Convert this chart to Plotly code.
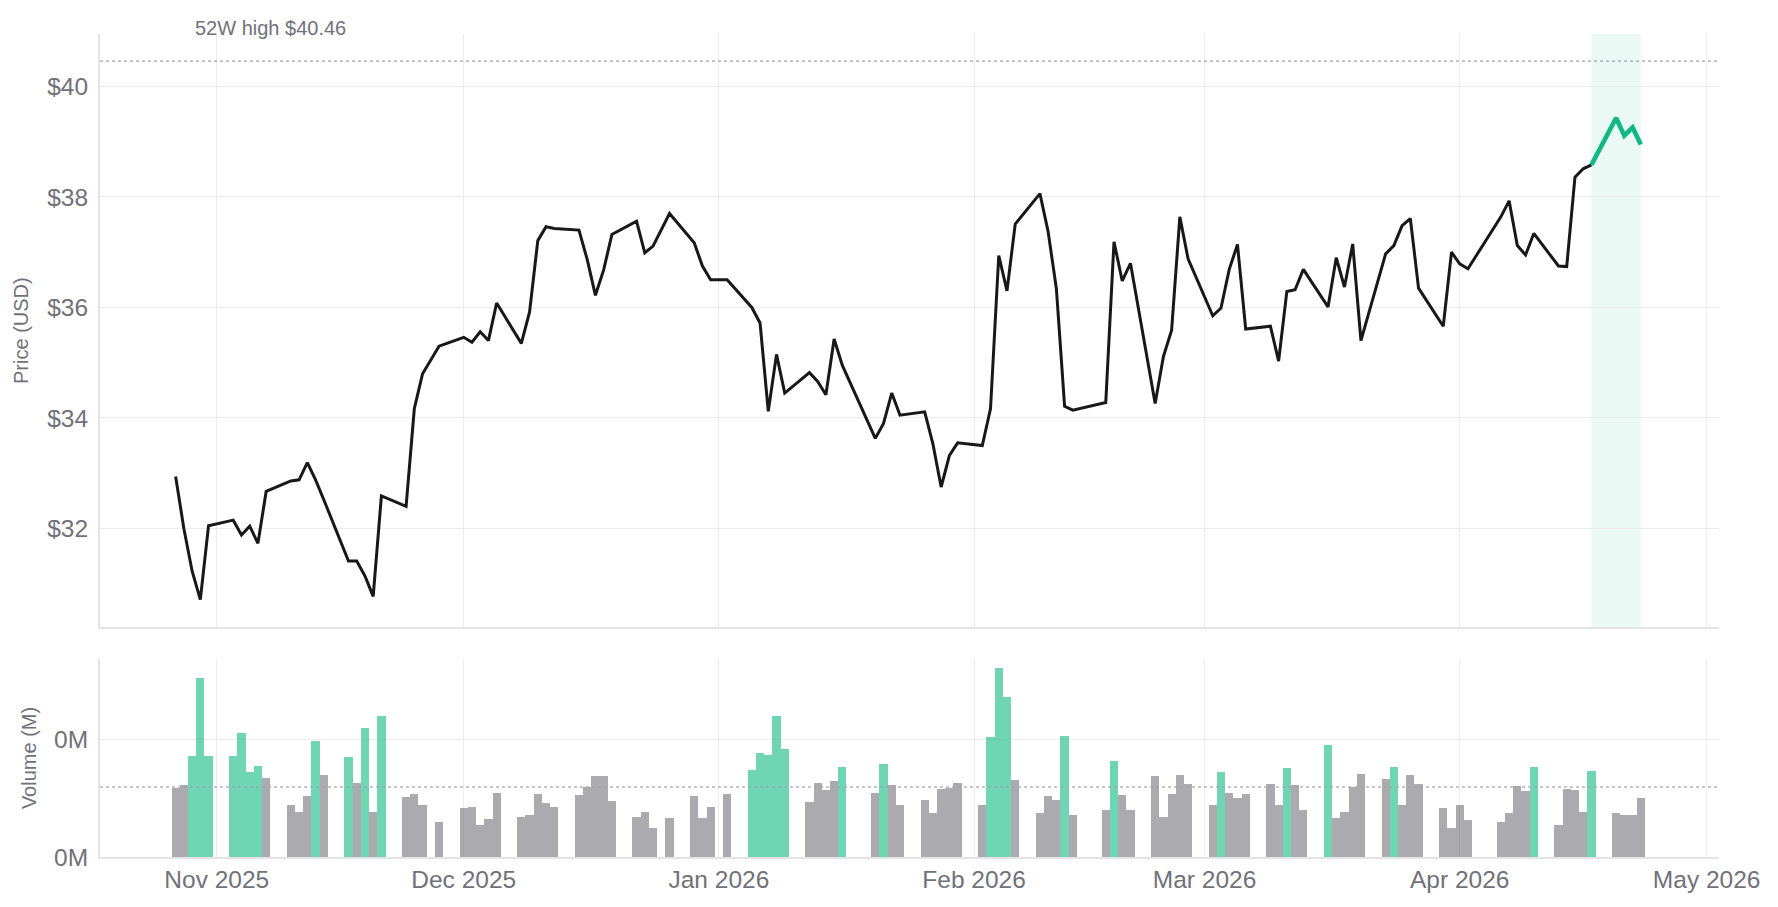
import plotly.graph_objects as go
from plotly.subplots import make_subplots

dates = [
    "2025-10-27", "2025-10-28", "2025-10-29", "2025-10-30", "2025-10-31",
    "2025-11-03", "2025-11-04", "2025-11-05", "2025-11-06", "2025-11-07",
    "2025-11-10", "2025-11-11", "2025-11-12", "2025-11-13", "2025-11-14",
    "2025-11-17", "2025-11-18", "2025-11-19", "2025-11-20", "2025-11-21",
    "2025-11-24", "2025-11-25", "2025-11-26", "2025-11-28",
    "2025-12-01", "2025-12-02", "2025-12-03", "2025-12-04", "2025-12-05",
    "2025-12-08", "2025-12-09", "2025-12-10", "2025-12-11", "2025-12-12",
    "2025-12-15", "2025-12-16", "2025-12-17", "2025-12-18", "2025-12-19",
    "2025-12-22", "2025-12-23", "2025-12-24", "2025-12-26",
    "2025-12-29", "2025-12-30", "2025-12-31", "2026-01-02",
    "2026-01-05", "2026-01-06", "2026-01-07", "2026-01-08", "2026-01-09",
    "2026-01-12", "2026-01-13", "2026-01-14", "2026-01-15", "2026-01-16",
    "2026-01-20", "2026-01-21", "2026-01-22", "2026-01-23",
    "2026-01-26", "2026-01-27", "2026-01-28", "2026-01-29", "2026-01-30",
    "2026-02-02", "2026-02-03", "2026-02-04", "2026-02-05", "2026-02-06",
    "2026-02-09", "2026-02-10", "2026-02-11", "2026-02-12", "2026-02-13",
    "2026-02-17", "2026-02-18", "2026-02-19", "2026-02-20",
    "2026-02-23", "2026-02-24", "2026-02-25", "2026-02-26", "2026-02-27",
    "2026-03-02", "2026-03-03", "2026-03-04", "2026-03-05", "2026-03-06",
    "2026-03-09", "2026-03-10", "2026-03-11", "2026-03-12", "2026-03-13",
    "2026-03-16", "2026-03-17", "2026-03-18", "2026-03-19", "2026-03-20",
    "2026-03-23", "2026-03-24", "2026-03-25", "2026-03-26", "2026-03-27",
    "2026-03-30", "2026-03-31", "2026-04-01", "2026-04-02",
    "2026-04-06", "2026-04-07", "2026-04-08", "2026-04-09", "2026-04-10",
    "2026-04-13", "2026-04-14", "2026-04-15", "2026-04-16", "2026-04-17",
    "2026-04-20", "2026-04-21", "2026-04-22", "2026-04-23",
]

close_prices = [
    32.94, 32.00, 31.23, 30.71, 32.05,
    32.15, 31.88, 32.04, 31.73, 32.67,
    32.86, 32.88, 33.19, 32.88, 32.52,
    31.41, 31.41, 31.14, 30.77, 32.59,
    32.40, 34.17, 34.80, 35.30,
    35.46, 35.37, 35.56, 35.40, 36.08,
    35.35, 35.92, 37.21, 37.46, 37.43,
    37.40, 36.87, 36.22, 36.68, 37.32,
    37.56, 36.99, 37.11, 37.70,
    37.17, 36.75, 36.50, 36.50,
    36.00, 35.72, 34.12, 35.15, 34.45,
    34.82, 34.66, 34.42, 35.43, 34.95,
    33.63, 33.90, 34.45, 34.05,
    34.11, 33.53, 32.75, 33.32, 33.55,
    33.50, 34.17, 36.94, 36.30, 37.51,
    38.06, 37.37, 36.34, 34.21, 34.14,
    34.28, 37.19, 36.48, 36.80,
    34.26, 35.11, 35.59, 37.64, 36.88,
    35.85, 35.99, 36.69, 37.14, 35.61,
    35.66, 35.03, 36.29, 36.32, 36.69,
    36.01, 36.90, 36.37, 37.15, 35.40,
    36.97, 37.12, 37.48, 37.61, 36.35,
    35.66, 37.00, 36.79, 36.70,
    37.64, 37.93, 37.12, 36.95, 37.34,
    36.75, 36.74, 38.36, 38.51, 38.58,
    39.43, 39.11, 39.26, 38.95,
]

volumes_m = [
    0.233, 0.243, 0.343, 0.607, 0.343,
    0.343, 0.422, 0.288, 0.309, 0.267,
    0.175, 0.154, 0.206, 0.394, 0.278,
    0.339, 0.250, 0.439, 0.154, 0.477,
    0.202, 0.213, 0.175, 0.120,
    0.165, 0.171, 0.110, 0.130, 0.216,
    0.137, 0.141, 0.213, 0.182, 0.168,
    0.209, 0.237, 0.274, 0.274, 0.189,
    0.137, 0.154, 0.099, 0.134,
    0.206, 0.134, 0.171, 0.213,
    0.295, 0.353, 0.346, 0.477, 0.367,
    0.185, 0.250, 0.226, 0.257, 0.305,
    0.216, 0.315, 0.243, 0.178,
    0.192, 0.151, 0.230, 0.233, 0.250,
    0.178, 0.408, 0.641, 0.542, 0.261,
    0.151, 0.206, 0.192, 0.411, 0.144,
    0.158, 0.326, 0.209, 0.161,
    0.274, 0.137, 0.213, 0.278, 0.247,
    0.175, 0.288, 0.216, 0.199, 0.213,
    0.247, 0.175, 0.302, 0.243, 0.161,
    0.381, 0.134, 0.154, 0.237, 0.281,
    0.264, 0.305, 0.178, 0.278, 0.247,
    0.165, 0.099, 0.175, 0.127,
    0.120, 0.151, 0.240, 0.223, 0.305,
    0.110, 0.230, 0.226, 0.154, 0.291,
    0.151, 0.144, 0.141, 0.199,
]

high_52w = 40.46
avg_volume_m = 0.2377
spike_factor = 1.2
highlight_start = "2026-04-17"
highlight_end = "2026-04-23"
price_tick_start, price_tick_step = 32, 2
volume_tick_start, volume_tick_step = 0, 0.4
x_range = ["2025-10-17 19:30", "2026-05-02 12:00"]
price_range = [30.21, 40.95]
volume_range = [0, 0.672]

INK = "#18181b"
GREEN = "#10b981"
MUTED = "#71717a"
GRID = "#ececec"
AXIS = "#e4e4e7"
FONT = "Liberation Sans, Arial, sans-serif"

fig = make_subplots(rows=2, cols=1, shared_xaxes=True, vertical_spacing=0.0385,
                    row_heights=[0.721, 0.2406])

hist_x = [d for d in dates if d <= highlight_start]
hist_y = [p for d, p in zip(dates, close_prices) if d <= highlight_start]
hl_x = [d for d in dates if d >= highlight_start]
hl_y = [p for d, p in zip(dates, close_prices) if d >= highlight_start]

fig.add_trace(go.Scatter(x=hist_x, y=hist_y, mode="lines",
                         line=dict(color=INK, width=3), hoverinfo="x+y"),
              row=1, col=1)
fig.add_trace(go.Scatter(x=hl_x, y=hl_y, mode="lines",
                         line=dict(color=GREEN, width=4.6), hoverinfo="x+y"),
              row=1, col=1)

bar_colors = ["rgba(16,185,129,0.6)" if v > avg_volume_m * spike_factor
              else "rgba(113,113,122,0.6)" for v in volumes_m]
fig.add_trace(go.Bar(x=dates, y=volumes_m, marker=dict(color=bar_colors, line=dict(width=0)),
                     width=86400000),
              row=2, col=1)

# highlight window
fig.add_shape(type="rect", xref="x", yref="y domain", x0=highlight_start, x1=highlight_end,
              y0=0, y1=1, fillcolor="rgba(16,185,129,0.085)", line=dict(width=0),
              layer="below")
# 52W high line
fig.add_shape(type="line", xref="x domain", yref="y", x0=0, x1=1, y0=high_52w, y1=high_52w,
              line=dict(color="#a1a1aa", width=1.3, dash="dot"))
fig.add_annotation(xref="paper", yref="y", x=0.0574, y=high_52w, xanchor="left",
                   yanchor="middle", yshift=33, showarrow=False,
                   text=f"52W high ${high_52w:.2f}",
                   font=dict(size=20, color=MUTED, family=FONT))
# average volume line
fig.add_shape(type="line", xref="x2 domain", yref="y2", x0=0, x1=1,
              y0=avg_volume_m, y1=avg_volume_m, layer="above",
              line=dict(color="rgba(161,161,170,0.6)", width=2, dash="dot"))

fig.update_layout(
    width=1778, height=907,
    margin=dict(l=100, r=59, t=34, b=50, autoexpand=False),
    paper_bgcolor="white", plot_bgcolor="white",
    showlegend=False, bargap=0,
    font=dict(family=FONT, color=MUTED),
)

common_x = dict(range=x_range, type="date", showgrid=True, gridcolor=GRID, gridwidth=1,
                showline=True, linecolor=AXIS, linewidth=2, zeroline=False,
                dtick="M1", tick0="2025-11-01", ticks="", automargin=False)
fig.update_xaxes(**common_x, showticklabels=False, row=1, col=1)
fig.update_xaxes(**common_x, showticklabels=True, tickformat="%b %Y",
                 tickfont=dict(size=24.5, color=MUTED), row=2, col=1)

common_y = dict(tickfont=dict(size=24.5, color=MUTED), showgrid=True, gridcolor=GRID,
                showline=True, linecolor=AXIS, linewidth=2, zeroline=False, ticks="",
                ticklabelstandoff=5, automargin=False, tickmode="linear")
fig.update_yaxes(**common_y, range=price_range, tick0=price_tick_start, dtick=price_tick_step,
                 tickprefix="$", tickformat=".0f",
                 title=dict(text="Price (USD)", font=dict(size=20, color=MUTED), standoff=13),
                 row=1, col=1)
fig.update_yaxes(**common_y, range=volume_range, tick0=volume_tick_start, dtick=volume_tick_step,
                 tickformat=".0f", ticksuffix="M",
                 title=dict(text="Volume (M)", font=dict(size=20, color=MUTED), standoff=12),
                 row=2, col=1)

fig.write_html("out.html", config={"displayModeBar": False},
               post_script="document.body.style.margin='0px';document.body.style.overflow='hidden';")
